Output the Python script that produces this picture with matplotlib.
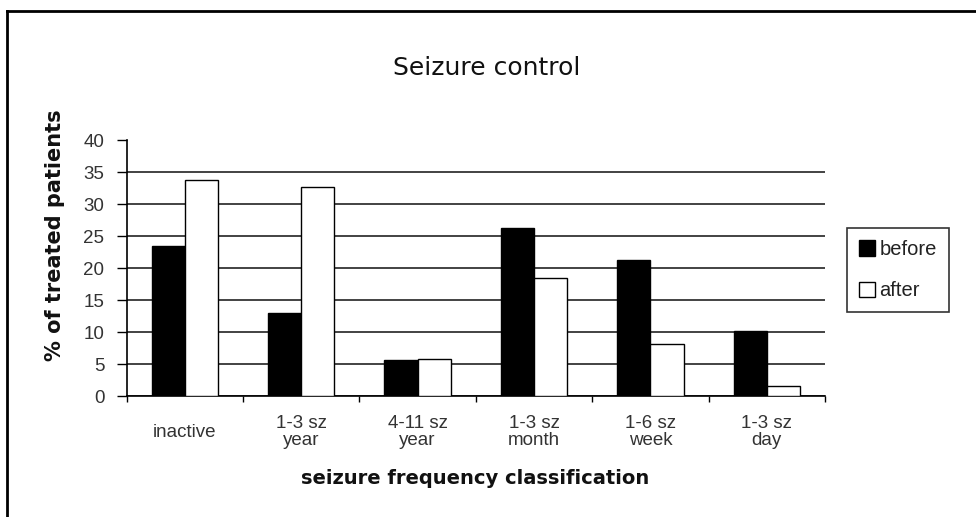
import numpy as np
import matplotlib
matplotlib.use("Agg")
import matplotlib.pyplot as plt
from matplotlib.lines import Line2D

categories = ["inactive", "1-3 sz\nyear", "4-11 sz\nyear", "1-3 sz\nmonth", "1-6 sz\nweek", "1-3 sz\nday"]
before = [23.5, 12.9, 5.7, 26.3, 21.2, 10.2]
after = [33.8, 32.6, 5.8, 18.5, 8.2, 1.5]
yticks = [0, 5, 10, 15, 20, 25, 30, 35, 40]

fig = plt.figure(figsize=(9.76, 5.17), dpi=100)
ax = fig.add_axes([0.1298, 0.234, 0.7155, 0.495])

x = np.arange(len(categories))
w = 0.285
ax.bar(x - w / 2, before, w, color="black", edgecolor="black", linewidth=1, label="before", zorder=3)
ax.bar(x + w / 2, after, w, color="white", edgecolor="black", linewidth=1, label="after", zorder=3)

ax.set_xlim(-0.5, len(categories) - 0.5)
ax.set_ylim(0, 40)
ax.set_yticks(yticks)
ax.set_yticklabels([str(v) for v in yticks], family="Liberation Sans", fontsize=13.5, color="#333333")
ax.tick_params(axis="y", direction="out", length=7, width=1, pad=9)

ax.set_xticks(x)
ax.set_xticklabels(categories, family="Liberation Sans", fontsize=13.5, color="#333333",
                   va="center", linespacing=0.95)
ax.tick_params(axis="x", which="major", length=0, pad=26)
ax.set_xticks(np.arange(-0.5, len(categories)), minor=True)
ax.tick_params(axis="x", which="minor", direction="out", length=4, width=1)

ax.yaxis.grid(True, color="#222222", linewidth=1.2, zorder=0)
ax.set_axisbelow(True)
ax.get_ygridlines()[-1].set_visible(False)

for s in ["top", "right"]:
    ax.spines[s].set_visible(False)
ax.spines["left"].set_linewidth(1.2)
ax.spines["bottom"].set_linewidth(1.2)

fig.text(0.499, 0.868, "Seizure control", ha="center", va="center",
         family="DejaVu Sans", fontsize=18, color="#111111")
fig.text(0.0565, 0.545, "% of treated patients", ha="center", va="center", rotation=90,
         family="DejaVu Sans", fontweight="bold", fontsize=15, color="#111111")
fig.text(0.487, 0.075, "seizure frequency classification", ha="center", va="center",
         family="DejaVu Sans", fontweight="bold", fontsize=14, color="#111111")

leg = fig.legend(loc="upper left", bbox_to_anchor=(0.868, 0.559), borderaxespad=0, frameon=True,
                 fancybox=False, edgecolor="black", handlelength=0.8, handleheight=0.8,
                 handletextpad=0.2, borderpad=0.6, labelspacing=1.1,
                 prop={"family": "Liberation Sans", "size": 14.5})
leg.get_frame().set_linewidth(1.2)
for t in leg.get_texts():
    t.set_color("#222222")

# picture border on top and left
fig.add_artist(Line2D([0.00717, 1.0], [0.9787, 0.9787], color="black", linewidth=2, transform=fig.transFigure))
fig.add_artist(Line2D([0.00717, 0.00717], [0.0, 0.9787], color="black", linewidth=2, transform=fig.transFigure))

fig.savefig("out.png", dpi=100)
